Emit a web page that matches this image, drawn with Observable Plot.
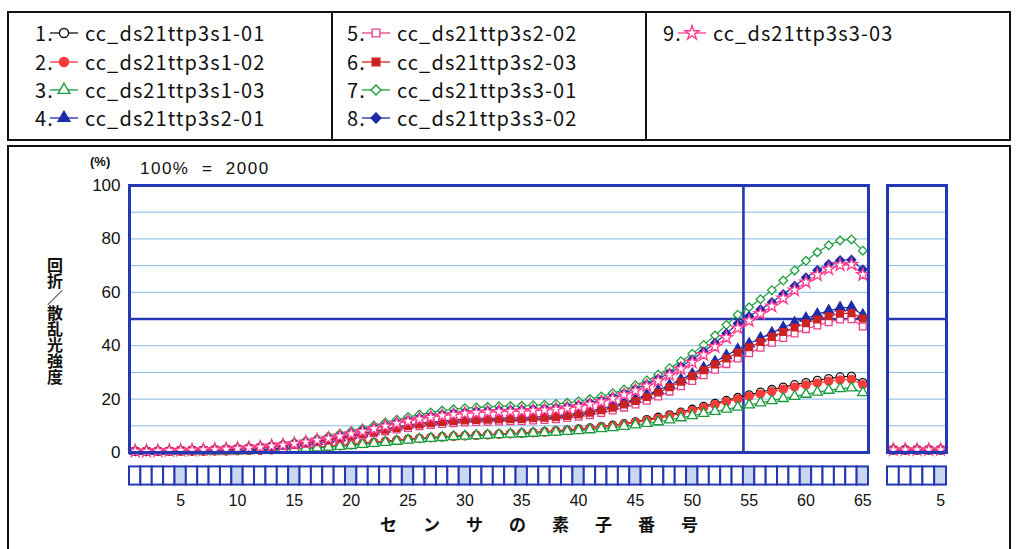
<!DOCTYPE html>
<html><head><meta charset="utf-8">
<script src="https://cdn.jsdelivr.net/npm/d3@7"></script>
<script src="https://cdn.jsdelivr.net/npm/@observablehq/plot@0.6"></script>
<style>
html,body{margin:0;padding:0;background:#fff;}
body{width:1017px;height:549px;overflow:hidden;position:relative;font-family:"Noto Sans CJK JP",sans-serif;color:#111;}
.box{position:absolute;border:2px solid #111;box-sizing:border-box;}
.vline{position:absolute;width:2px;background:#111;}
.lg{position:absolute;height:24px;line-height:24px;font-size:20px;letter-spacing:1.1px;white-space:pre;}
.abs{position:absolute;white-space:pre;}
.plot{position:absolute;}
.plot svg{display:block;max-width:none;}
#ytitle{writing-mode:vertical-rl;text-orientation:upright;letter-spacing:0px;}
</style></head><body>
<div class="box" style="left:7px;top:11px;width:1004px;height:130px"></div>
<div class="vline" style="left:331px;top:11px;height:130px"></div>
<div class="vline" style="left:645px;top:11px;height:130px"></div>
<div id="legend"></div>
<div class="box" style="left:7px;top:145px;width:1004px;height:420px"></div>
<div class="abs" style="left:90px;top:154px;font-size:13px;font-weight:700;font-family:'Liberation Sans',sans-serif;">(%)</div>
<div class="abs" style="left:140px;top:159px;font-size:17px;letter-spacing:1.5px;font-family:'Liberation Sans',sans-serif;">100%  =  2000</div>
<div id="ytitle" class="abs" style="left:47px;top:257px;font-size:16px;line-height:16px;font-weight:700;">回折／散乱光強度</div>
<div class="abs" style="left:380px;top:511px;font-size:17px;font-weight:700;letter-spacing:26px;">センサの素子番号</div>
<div id="main" class="plot" style="left:0px;top:147px;width:880px;height:402px"></div>
<div id="side" class="plot" style="left:880px;top:147px;width:137px;height:402px"></div>
<script>
// ---- data ----
const elements = d3.range(1, 66);
const sideElements = [1, 2, 3, 4, 5];
const yTicks = [0, 20, 40, 60, 80, 100];
const xTicks = [5, 10, 15, 20, 25, 30, 35, 40, 45, 50, 55, 60, 65];
const sideTicks = [5];
const seriesNames = ["cc_ds21ttp3s1-01","cc_ds21ttp3s1-02","cc_ds21ttp3s1-03","cc_ds21ttp3s2-01","cc_ds21ttp3s2-02","cc_ds21ttp3s2-03","cc_ds21ttp3s3-01","cc_ds21ttp3s3-02","cc_ds21ttp3s3-03"];

const s1 = [0.4,0.4,0.4,0.4,0.5,0.5,0.5,0.6,0.6,0.7, 0.8,0.9,1.0,1.2,1.4,1.6,1.9,2.2,2.6,3.0, 3.4,3.8,4.2,4.6,5.0,5.3,5.6,5.9,6.1,6.3, 6.5,6.7,6.9,7.1,7.3,7.5,7.8,8.1,8.4,8.8, 9.2,9.7,10.2,10.8,11.5,12.3,13.2,14.1,15.1,16.2, 17.3,18.4,19.5,20.6,21.6,22.6,23.6,24.5,25.4,26.2, 27.0,27.7,28.3,28.5,26.2];
const s2 = [0.4,0.4,0.4,0.4,0.5,0.5,0.5,0.6,0.6,0.7, 0.8,0.9,1.0,1.2,1.4,1.6,1.9,2.2,2.5,2.9, 3.3,3.7,4.1,4.5,4.9,5.2,5.5,5.8,6.0,6.2, 6.4,6.6,6.8,7.0,7.2,7.4,7.6,7.9,8.2,8.6, 9.0,9.5,10.0,10.6,11.2,12.0,12.8,13.7,14.7,15.7, 16.8,17.9,19.0,20.0,21.0,21.9,22.8,23.7,24.5,25.3, 26.0,26.7,27.2,27.4,25.4];
const s3 = [0.4,0.4,0.4,0.4,0.5,0.5,0.5,0.5,0.6,0.6, 0.7,0.8,0.9,1.1,1.3,1.5,1.7,2.0,2.3,2.6, 3.0,3.4,3.8,4.2,4.6,5.0,5.3,5.6,5.9,6.1, 6.3,6.5,6.7,6.9,7.0,7.2,7.4,7.6,7.9,8.2, 8.5,8.9,9.3,9.8,10.3,10.9,11.5,12.2,13.0,13.8, 14.6,15.4,16.2,17.0,17.8,18.6,19.4,20.2,21.0,21.8, 22.6,23.3,23.9,24.2,22.4];
const s4 = [0.5,0.5,0.5,0.6,0.7,0.8,0.9,1.0,1.2,1.4, 1.7,2.0,2.3,2.7,3.1,3.6,4.2,4.9,5.6,6.4, 7.2,8.0,8.8,9.6,10.3,10.9,11.4,11.8,12.2,12.5, 12.7,12.8,12.9,13.0,13.1,13.3,13.5,13.8,14.2,14.8, 15.5,16.4,17.5,18.7,20.0,21.6,23.3,25.2,27.3,29.4, 31.7,34.0,36.3,38.6,40.7,42.8,44.8,46.8,48.6,50.3, 51.8,53.1,54.2,54.4,51.5];
const s5 = [0.5,0.5,0.5,0.6,0.7,0.8,0.9,1.0,1.1,1.3, 1.5,1.8,2.1,2.4,2.8,3.3,3.8,4.4,5.0,5.7, 6.4,7.2,7.9,8.6,9.2,9.8,10.3,10.7,11.0,11.2, 11.4,11.5,11.6,11.7,11.8,12.0,12.2,12.5,12.9,13.4, 14.0,14.8,15.7,16.8,18.0,19.4,21.0,22.8,24.8,26.8, 28.9,31.0,33.1,35.2,37.2,39.2,41.1,42.9,44.6,46.2, 47.6,48.8,49.8,49.9,47.2];
const s6 = [0.5,0.5,0.5,0.6,0.7,0.8,0.9,1.0,1.2,1.4, 1.6,1.9,2.2,2.6,3.0,3.5,4.1,4.7,5.4,6.1, 6.9,7.7,8.5,9.2,9.9,10.5,11.0,11.4,11.7,12.0, 12.2,12.3,12.4,12.5,12.6,12.8,13.0,13.3,13.7,14.2, 14.9,15.8,16.8,18.0,19.3,20.8,22.5,24.4,26.5,28.6, 30.8,33.0,35.2,37.4,39.4,41.4,43.3,45.1,46.8,48.4, 49.8,51.0,52.0,52.2,50.2];
const s7 = [0.5,0.5,0.6,0.7,0.8,0.9,1.0,1.2,1.4,1.6, 1.9,2.2,2.6,3.1,3.7,4.4,5.2,6.1,7.0,8.0, 9.0,10.1,11.2,12.3,13.3,14.2,15.0,15.7,16.2,16.6, 16.9,17.1,17.3,17.4,17.5,17.7,17.9,18.2,18.6,19.2, 20.0,21.0,22.2,23.6,25.2,27.0,29.2,31.6,34.2,37.0, 40.3,43.8,47.8,51.6,54.4,57.4,60.8,64.4,68.2,71.8, 75.0,77.6,79.4,79.8,75.6];
const s8 = [0.5,0.5,0.6,0.7,0.8,0.9,1.0,1.1,1.3,1.5, 1.8,2.1,2.5,2.9,3.4,4.0,4.7,5.5,6.4,7.3, 8.3,9.3,10.3,11.3,12.2,13.0,13.7,14.3,14.8,15.2, 15.5,15.7,15.9,16.0,16.1,16.3,16.5,16.8,17.2,17.8, 18.6,19.6,20.8,22.2,23.8,25.6,27.6,29.8,32.2,34.8, 37.8,41.0,44.6,48.3,51.0,53.6,56.3,59.3,62.4,65.5, 68.3,70.5,72.0,72.2,68.5];
const s9 = [0.5,0.5,0.6,0.7,0.8,0.9,1.0,1.1,1.3,1.5, 1.7,2.0,2.4,2.8,3.3,3.9,4.6,5.3,6.1,7.0, 7.9,8.9,9.9,10.9,11.7,12.5,13.2,13.8,14.2,14.6, 14.9,15.1,15.3,15.4,15.5,15.7,15.9,16.2,16.6,17.2, 18.0,19.0,20.2,21.6,23.1,24.9,26.8,29.0,31.3,33.8, 36.6,39.6,43.0,46.6,49.3,52.0,54.8,57.8,60.8,63.8, 66.5,68.7,70.2,70.4,66.6];
const r1 = [0.9,0.9,0.9,0.9,0.9];
const r2 = [0.9,0.9,0.9,0.9,0.9];
const r3 = [0.9,0.9,0.9,0.9,0.9];
const r4 = [1.0,1.0,1.0,1.0,1.0];
const r5 = [1.0,1.0,1.0,1.0,1.0];
const r6 = [1.0,1.0,1.0,1.0,1.0];
const r7 = [1.0,1.0,1.0,1.0,1.0];
const r8 = [1.0,1.0,1.0,1.0,1.0];
const r9 = [1.0,1.0,1.0,1.0,1.0];

// ---- styles ----
const FRAME = "#2438b4", GRID = "#86b8e8", SHADE = "#c9d8f0";
const styles = [
  {color:"#111111", symbol:"circle", filled:false, r:4.0},
  {color:"#ff3a3a", symbol:"circle", filled:true, r:4.0},
  {color:"#179a3a", symbol:"triangle", filled:false, r:3.8},
  {color:"#1c2ca8", symbol:"triangle", filled:true, r:3.8},
  {color:"#e8408a", symbol:"square", filled:false, r:3.8},
  {color:"#cc2222", symbol:"square", filled:true, r:3.8},
  {color:"#1e9e3c", symbol:"diamond2", filled:false, r:3.9},
  {color:"#1c2ca8", symbol:"diamond2", filled:true, r:3.9},
  {color:"#ff3c8e", symbol:"star", filled:false, r:3.9}
];
const mainValues = [s1,s2,s3,s4,s5,s6,s7,s8,s9];
const sideValues = [r1,r2,r3,r4,r5,r6,r7,r8,r9];

// ---- legend ----
const d3sym = {circle:d3.symbolCircle, triangle:d3.symbolTriangle, square:d3.symbolSquare, diamond2:d3.symbolDiamond2, star:d3.symbolStar};
const legend = document.getElementById("legend");
const cols = [35, 347, 663], rowsY = [33, 62, 90, 118];
seriesNames.forEach((name, i) => {
  const col = Math.floor(i / 4), row = i % 4;
  const st = styles[i];
  const x0 = cols[col], yc = rowsY[row];
  const num = document.createElement("div");
  num.className = "lg"; num.style.left = x0 + "px"; num.style.top = (yc - 12) + "px";
  num.textContent = (i + 1) + ".";
  legend.appendChild(num);
  const svg = d3.select(legend).append("svg").attr("width", 28).attr("height", 20)
    .style("position","absolute").style("left", (x0 + 15) + "px").style("top", (yc - 10) + "px");
  svg.append("line").attr("x1",0).attr("x2",28).attr("y1",10).attr("y2",10).attr("stroke",st.color).attr("stroke-width",1.3);
  svg.append("path").attr("transform","translate(14,10)")
    .attr("d", d3.symbol(d3sym[st.symbol], Math.PI * st.r * st.r * 1.3)())
    .attr("fill", st.filled ? st.color : "white").attr("stroke", st.color).attr("stroke-width", 1.4);
  const t = document.createElement("div");
  t.className = "lg"; t.style.left = (x0 + 50) + "px"; t.style.top = (yc - 12) + "px";
  t.textContent = name;
  legend.appendChild(t);
});

// ---- chart builder ----
function seriesMarks(xs, values) {
  const marks = [];
  values.forEach((vals, i) => {
    const st = styles[i];
    const rows = xs.map((e, j) => ({el: e, v: vals[j], s: seriesNames[i]}));
    marks.push(Plot.line(rows, {x: "el", y: "v", stroke: st.color, strokeWidth: 1.2}));
    marks.push(Plot.dot(rows, {x: "el", y: "v", symbol: st.symbol, r: st.r,
      fill: st.filled ? st.color : "white", stroke: st.color, strokeWidth: 1.3}));
  });
  return marks;
}

function buildPanel(xs, values, ticks, width, marginLeft, marginRight, withY, divider) {
  const marks = [
    Plot.ruleY([10,20,30,40,60,70,80,90], {stroke: GRID, strokeWidth: 1}),
    Plot.ruleY([50], {stroke: FRAME, strokeWidth: 2.6})
  ];
  if (divider) marks.push(Plot.ruleX([divider], {stroke: FRAME, strokeWidth: 2.6}));
  marks.push(...seriesMarks(xs, values));
  marks.push(Plot.frame({stroke: FRAME, strokeWidth: 3}));
  marks.push(Plot.rect(xs, {x1: d => d - 0.5, x2: d => d + 0.5, y1: () => -5.4, y2: () => -12.2,
    fill: d => d % 5 === 0 ? SHADE : "white", stroke: FRAME, strokeWidth: 2}));
  marks.push(Plot.axisX({ticks, tickSize: 0, tickPadding: 42, fontSize: 16, label: null, tickFormat: d3.format("d")}));
  if (withY) marks.push(Plot.axisY({ticks: yTicks, tickSize: 0, tickPadding: 9, fontSize: 17, label: null}));
  return Plot.plot({
    width, height: 402,
    marginLeft, marginRight, marginTop: 38, marginBottom: 97,
    x: {domain: [0.5, xs.length + 0.5], axis: null},
    y: {domain: [0, 100], axis: null},
    style: {fontFamily: "'Liberation Sans', sans-serif", color: "#111", background: "transparent", overflow: "visible"},
    marks
  });
}

document.getElementById("main").appendChild(buildPanel(elements, mainValues, xTicks, 880, 129, 12, true, 54.5));
document.getElementById("side").appendChild(buildPanel(sideElements, sideValues, sideTicks, 137, 7, 71, false, null));
</script>
</body></html>
